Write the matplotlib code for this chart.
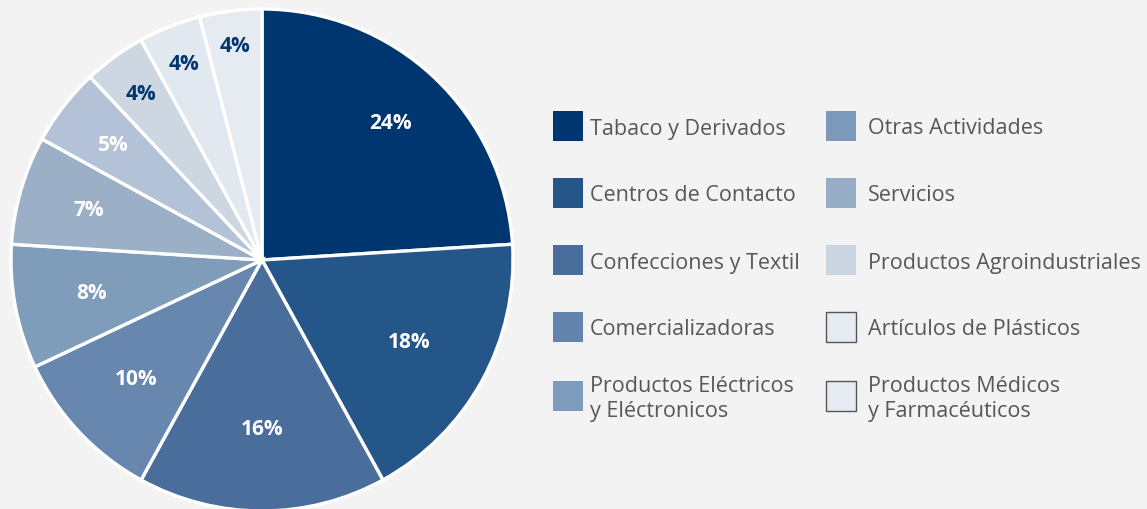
import matplotlib
matplotlib.use("Agg")
import matplotlib.pyplot as plt
from matplotlib.patches import Rectangle
import numpy as np

categories = ["Tabaco y Derivados", "Centros de Contacto", "Confecciones y Textil",
              "Comercializadoras", "Productos Eléctricos\ny Eléctronicos",
              "Otras Actividades", "Servicios", "Productos Agroindustriales",
              "Artículos de Plásticos", "Productos Médicos\ny Farmacéuticos"]
values = [24, 18, 16, 10, 8, 7, 5, 4, 4, 4]
labels = ["24%", "18%", "16%", "10%", "8%", "7%", "5%", "4%", "4%", "4%"]

slice_colors = ["#003670", "#25568a", "#4a6e9b", "#6787ae", "#809cbb",
                "#9bafc6", "#b3c2d6", "#cdd7e2", "#e2e8f0", "#e6ebf2"]
legend_colors = ["#003670", "#25568a", "#4a6e9b", "#6384ad", "#7f9bbb",
                 "#7d99ba", "#97adc6", "#cbd5e1", "#e6ebf2", "#e6ebf2"]
legend_edges = [None] * 8 + ["#555555", "#555555"]
label_colors = ["white"] * 7 + ["#003670"] * 3
label_r = [0.75, 0.67, 0.67, 0.69, 0.69, 0.72, 0.75, 0.82, 0.84, 0.86]

W, H = 1147, 510
bg = "#f3f3f3"
font = "Open Sans"

fig = plt.figure(figsize=(W / 100, H / 100), dpi=100, facecolor=bg)
cx, cy, r = 262, 261, 251
ax = fig.add_axes([(cx - r) / W, (H - cy - r) / H, 2 * r / W, 2 * r / H])
ax.set_facecolor(bg)
wedges, _ = ax.pie(values, colors=slice_colors, startangle=90, counterclock=False,
                   radius=1.0, wedgeprops=dict(edgecolor="white", linewidth=2.4))
ax.set_xlim(-1, 1)
ax.set_ylim(-1, 1)
ax.set_aspect("equal")
ax.axis("off")

for w, lab, col, rr in zip(wedges, labels, label_colors, label_r):
    ang = np.deg2rad((w.theta1 + w.theta2) / 2)
    ax.text(rr * np.cos(ang), rr * np.sin(ang), lab, ha="center", va="center",
            color=col, fontsize=15, fontweight="bold", family=font)

# legend
rows_y = [127, 194, 261, 328, 397]
cols = [(553, 590), (826, 868)]
sq = 30
for i, (name, fc, ec) in enumerate(zip(categories, legend_colors, legend_edges)):
    col = i // 5
    row = i % 5
    sx, tx = cols[col]
    yc = rows_y[row]
    rect = Rectangle((sx / W, (H - yc - sq / 2) / H), sq / W, sq / H,
                     transform=fig.transFigure, facecolor=fc,
                     edgecolor=ec if ec else fc, linewidth=1.0 if ec else 0)
    fig.patches.append(rect)
    fig.text(tx / W, (H - yc - 2) / H, name, ha="left", va="center",
             fontsize=15.5, color="#575757", family=font, linespacing=1.3)

fig.savefig("out.png", dpi=100, facecolor=bg)
